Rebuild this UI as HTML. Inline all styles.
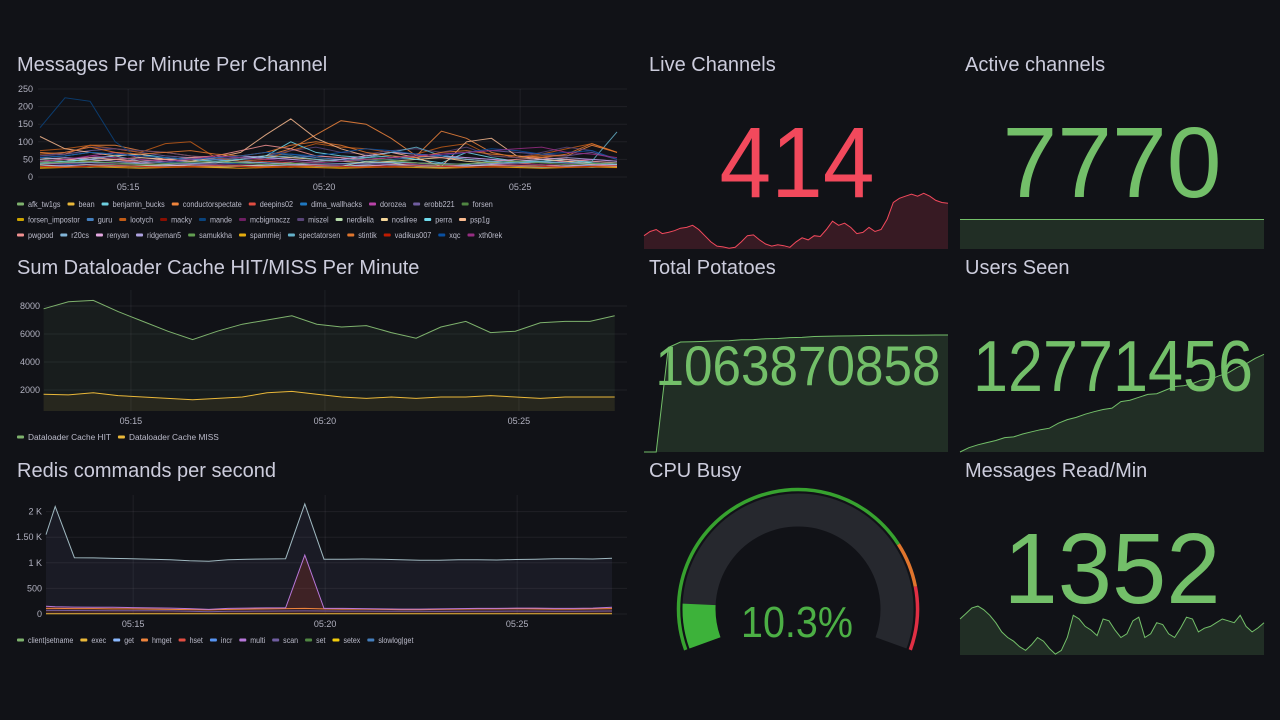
<!DOCTYPE html>
<html><head><meta charset="utf-8"><style>
html,body{margin:0;padding:0;background:#111217;width:1280px;height:720px;overflow:hidden;}
svg{display:block;font-family:"Liberation Sans",sans-serif;}
.title{fill:#ccccdc;font-size:20px;}
.tick{fill:#ccccdc;font-size:9px;opacity:0.85}
.leg{fill:#ccccdc;font-size:8.6px;opacity:0.9}
.grid{stroke:rgba(204,204,220,0.08);stroke-width:1}
</style></head><body>
<svg id="dash" width="1280" height="720" viewBox="0 0 1280 720" xmlns="http://www.w3.org/2000/svg">
<text class="title" x="17" y="71">Messages Per Minute Per Channel</text>
<text class="title" x="17" y="274">Sum Dataloader Cache HIT/MISS Per Minute</text>
<text class="title" x="17" y="477">Redis commands per second</text>
<text class="title" x="649" y="71">Live Channels</text>
<text class="title" x="965" y="71">Active channels</text>
<text class="title" x="649" y="274">Total Potatoes</text>
<text class="title" x="965" y="274">Users Seen</text>
<text class="title" x="649" y="477">CPU Busy</text>
<text class="title" x="965" y="477">Messages Read/Min</text>
<g id="layer"></g>
</svg>
<script>
// ---------- data ----------
const msgTimes=[12.75,13.39,14.03,14.67,15.31,15.95,16.59,17.23,17.87,18.51,19.15,19.79,20.43,21.07,21.71,22.35,22.99,23.63,24.27,24.91,25.55,26.19,26.83,27.47];
const msgNames=["afk_tw1gs","bean","benjamin_bucks","conductorspectate","deepins02","dima_wallhacks","dorozea","erobb221","forsen","forsen_impostor","guru","lootych","macky","mande","mcbigmaczz","miszel","nerdiella","nosliree","perra","psp1g","pwgood","r20cs","renyan","ridgeman5","samukkha","spammiej","spectatorsen","stintik","vadikus007","xqc","xth0rek"];
const msgLegendRows=[9,11,11];
const palette=["#7EB26D","#EAB839","#6ED0E0","#EF843C","#E24D42","#1F78C1","#BA43A9","#705DA0","#508642","#CCA300","#447EBC","#C15C17","#890F02","#0A437C","#6D1F62","#584477","#B7DBAB","#F4D598","#70DBED","#F9BA8F","#F29191","#82B5D8","#E5A8E2","#AEA2E0","#629E51","#E5AC0E","#64B0C8","#E0752D","#BF1B00","#0A50A1","#962D82"];
const msgValues=[
[45,40,35,30,28,30,32,30,35,30,28,30,30,35,45,40,30,28,30,32,35,30,28,30],
[30,28,30,32,30,28,30,30,32,30,28,30,30,28,30,30,28,30,32,30,30,28,30,28],
[35,40,55,60,45,50,55,50,45,40,35,30,30,35,40,35,30,35,45,40,35,30,35,30],
[70,65,90,90,75,70,60,50,55,60,80,120,160,150,110,60,130,110,70,55,60,60,90,70],
[35,40,45,50,40,35,30,35,40,45,40,35,30,30,35,40,35,30,35,40,35,30,35,30],
[30,35,40,35,30,28,30,35,40,35,30,30,35,40,35,30,28,30,35,30,28,30,32,35],
[40,45,60,70,55,50,40,45,50,55,50,45,50,60,70,65,60,55,50,45,40,45,50,45],
[60,65,75,80,70,60,55,50,45,50,55,60,55,50,55,60,65,70,75,70,65,60,70,50],
[50,45,40,35,35,30,30,28,30,30,32,30,30,28,30,28,30,30,28,30,30,28,30,28],
[28,30,28,30,30,28,30,28,30,30,28,30,28,30,28,30,28,30,30,28,30,28,30,28],
[45,50,55,50,45,40,45,50,55,60,65,55,50,45,50,55,60,50,45,40,45,50,45,40],
[75,80,90,80,70,95,100,55,45,50,75,95,85,80,70,65,85,95,60,55,65,80,95,70],
[25,28,30,28,25,27,28,26,25,27,28,26,25,27,28,26,25,27,28,26,25,27,28,26],
[140,225,215,100,50,45,40,42,38,35,38,30,30,28,30,28,30,32,30,30,28,30,28,30],
[35,38,40,38,35,37,38,36,35,37,38,36,35,37,38,36,35,37,38,36,35,37,38,36],
[60,70,85,80,75,70,60,55,50,60,75,85,70,65,75,80,70,85,60,55,70,85,75,50],
[35,30,28,30,32,35,30,28,30,35,40,30,30,45,40,30,28,30,35,30,28,30,28,30],
[55,50,45,50,55,50,45,40,50,60,55,50,45,40,45,50,55,45,40,45,50,45,40,35],
[40,45,50,60,65,55,50,45,50,60,100,70,60,55,60,50,40,70,55,45,45,50,40,35],
[115,80,70,60,65,50,45,55,70,120,165,110,80,60,70,55,30,100,110,60,50,45,35,30],
[45,50,55,50,45,50,55,60,75,90,80,60,55,50,55,60,55,50,45,50,55,50,45,40],
[38,40,42,40,38,36,38,40,42,40,38,36,38,40,42,40,38,36,38,40,42,40,38,36],
[30,32,35,33,30,32,35,33,30,32,35,33,30,32,35,33,30,32,35,33,30,32,35,33],
[50,55,50,45,40,45,50,55,60,55,50,45,50,60,70,65,60,55,50,45,50,55,50,45],
[40,42,45,40,35,38,42,45,40,35,38,42,45,50,48,40,35,38,42,45,40,35,38,40],
[25,27,29,27,25,27,29,27,25,27,29,27,25,27,29,27,25,27,29,27,25,27,29,27],
[55,60,70,65,60,55,50,45,50,55,60,50,45,55,70,85,60,50,45,40,45,40,45,128],
[65,70,85,70,65,70,75,65,60,70,90,100,90,70,60,55,70,75,65,60,55,65,95,70],
[30,28,30,32,30,28,30,32,30,28,30,32,30,28,30,32,30,28,30,32,30,28,30,32],
[55,60,70,65,60,55,50,55,60,70,65,60,70,80,75,65,60,70,80,75,65,70,75,50],
[45,50,60,55,50,45,50,60,55,50,45,40,45,50,55,60,65,70,75,80,85,70,65,55]];
const msgYTicks=[0,50,100,150,200,250];
const timeTicks=[15,20,25];
const timeTickLabels=["05:15","05:20","05:25"];

const dlTimes=msgTimes;
const dlHit=[7800,8300,8400,7600,6900,6200,5600,6200,6700,7000,7300,6700,6500,6600,6100,5700,6500,6900,6100,6200,6800,6900,6900,7300];
const dlMiss=[1700,1650,1800,1600,1500,1400,1300,1400,1500,1800,1900,1700,1500,1400,1500,1400,1500,1500,1600,1500,1400,1500,1500,1500];
const dlYTicks=[2000,4000,6000,8000];

const redisTimes=[12.73,12.97,13.47,13.97,14.47,14.97,15.47,15.97,16.47,16.97,17.47,17.97,18.47,18.97,19.47,19.97,20.47,20.97,21.47,21.97,22.47,22.97,23.47,23.97,24.47,24.97,25.47,25.97,26.47,26.97,27.47];
const redisNames=["client|setname","exec","get","hmget","hset","incr","multi","scan","set","setex","slowlog|get"];
const redisColors=["#7EB26D","#EAB839","#8AB8FF","#EF843C","#E24D42","#5794F2","#B877D9","#705DA0","#508642","#F2CC0C","#447EBC"];
const redisGet=[1550,2100,1100,1095,1085,1080,1070,1060,1040,1030,1060,1070,1075,1080,2150,1070,1070,1075,1070,1060,1050,1050,1060,1060,1055,1065,1070,1080,1080,1075,1090];
const redisMulti=[150,140,135,130,130,125,120,115,105,90,110,115,120,120,1150,110,110,105,100,95,95,100,105,110,110,115,115,110,110,115,130];
const redisHmget=[110,110,105,105,100,100,95,90,85,80,90,95,100,105,110,100,95,95,90,85,85,90,95,100,100,105,100,95,95,100,105];
const redisScan=[70,70,68,66,65,64,62,60,55,45,52,55,56,58,60,58,57,56,55,54,52,50,52,54,55,56,56,55,55,56,58];
const redisExec=[5,5,5,5,5,5,5,5,5,5,5,5,5,5,5,5,5,5,5,5,5,5,5,5,5,5,5,5,5,5,5];
const redisYTicks=[0,500,1000,1500,2000];
const redisYLabels=["0","500","1 K","1.50 K","2 K"];

const liveChannels=[360,370,375,365,368,372,378,380,385,375,360,345,335,333,330,332,345,360,362,350,340,335,338,336,332,345,355,350,360,358,375,395,385,390,380,365,368,380,370,375,400,440,450,455,460,455,462,455,445,440,438];
const activeChannels=[7770,7770,7770,7770,7770,7770,7770,7770,7770,7770];
const potatoes=[0,0,950e6,1000e6,1003e6,1006e6,1010e6,1012e6,1020e6,1022e6,1030e6,1032e6,1040e6,1042e6,1050e6,1052e6,1055e6,1056e6,1058e6,1060e6,1061e6,1062e6,1062.5e6,1063e6,1063.5e6,1063.87e6];
const usersSeen=[12.500,12.512,12.520,12.526,12.532,12.540,12.542,12.550,12.556,12.562,12.566,12.580,12.590,12.596,12.605,12.612,12.618,12.622,12.640,12.644,12.652,12.660,12.662,12.672,12.682,12.684,12.690,12.700,12.702,12.712,12.720,12.735,12.745,12.760,12.7715];
const msgRead=[1400,1430,1460,1470,1450,1420,1380,1330,1300,1280,1250,1230,1260,1300,1280,1240,1210,1230,1300,1420,1400,1360,1340,1310,1400,1390,1340,1300,1320,1390,1410,1300,1320,1380,1370,1320,1300,1350,1410,1400,1330,1350,1360,1380,1400,1390,1380,1420,1360,1330,1352,1380];
const cpuBusy=10.3;
const cpuThresholds=[76,86];

// ---------- helpers ----------
const NS="http://www.w3.org/2000/svg";
const layer=document.getElementById('layer');
function mk(tag,attrs,parent){const e=document.createElementNS(NS,tag);for(const k in attrs)e.setAttribute(k,attrs[k]);(parent||layer).appendChild(e);return e;}
function path(pts){return pts.map((p,i)=>(i?'L':'M')+p[0].toFixed(1)+','+p[1].toFixed(1)).join('');}

function axes(g,xs,ys,x0,x1,yTop,yBot,yTicks,yLabels,labX,xLabY){
  yTicks.forEach((v,i)=>{const y=ys(v);
    const l=mk('line',{x1:x0,x2:x1,y1:y,y2:y,class:'grid'},g);
    
    
    const t=mk('text',{x:labX,y:y+3,'text-anchor':'end',class:'tick'},g);t.textContent=yLabels[i];
    
    });
  timeTicks.forEach((v,i)=>{const x=xs(v);
    const l=mk('line',{x1:x,x2:x,y1:yTop,y2:yBot,class:'grid'},g);
    
    
    const t=mk('text',{x:x,y:xLabY,'text-anchor':'middle',class:'tick'},g);t.textContent=timeTickLabels[i];
    
    });
}
function legend(g,names,colors,x0,y,rows,rowH,squeeze){
  let x=x0,r=0,inRow=0;
  names.forEach((n,i)=>{
    if(rows && inRow>=rows[r]){r++;inRow=0;x=x0;y+=rowH;}
    inRow++;
    const tmp=mk('text',{x:0,y:-100,class:'leg'},g);tmp.textContent=n;const w=tmp.getComputedTextLength()*squeeze;tmp.remove();
    const it=mk('g',{},g);
    
    
    mk('rect',{x:x,y:y-1.5,width:7,height:3,rx:1,fill:colors[i]},it);
    const t=mk('text',{x:x+11,y:y+3,class:'leg',textLength:w.toFixed(1),lengthAdjust:'spacingAndGlyphs'},it);t.textContent=n;
    x+=11+w+7;
  });
}

// ---------- messages chart ----------
(function(){
  const g=mk('g',{});
  
  
  const xs=t=>38+(t-12.7)*39.2, ys=v=>177-v*0.352;
  axes(g,xs,ys,38,627,89,177,msgYTicks,msgYTicks.map(String),33,190);
  msgValues.forEach((s,i)=>{
    const p=mk('path',{d:path(s.map((v,j)=>[xs(msgTimes[j]),ys(v)])),fill:'none',stroke:palette[i],'stroke-width':1,'stroke-opacity':0.85},g);
    
    
  });
  legend(g,msgNames,palette,17,204,msgLegendRows,15.5,0.84);
})();

// ---------- dataloader chart ----------
(function(){
  const g=mk('g',{});
  
  
  const xs=t=>44+(t-12.76)*38.8, ys=v=>418-v*0.014;
  axes(g,xs,ys,44,627,290,411,dlYTicks,dlYTicks.map(String),40,424);
  [[dlHit,'#7EB26D','hit'],[dlMiss,'#EAB839','miss']].forEach(([s,c,n])=>{
    const pts=s.map((v,j)=>[xs(dlTimes[j]),ys(v)]);
    const a=mk('path',{d:path(pts)+'L'+pts[pts.length-1][0]+',411L'+pts[0][0]+',411Z',fill:c,'fill-opacity':0.07},g);
    
    
    const l=mk('path',{d:path(pts),fill:'none',stroke:c,'stroke-width':1},g);
    
    
  });
  legend(g,["Dataloader Cache HIT","Dataloader Cache MISS"],["#7EB26D","#EAB839"],17,437,null,15,0.97);
})();

// ---------- redis chart ----------
(function(){
  const g=mk('g',{});
  
  
  const xs=t=>46+(t-12.73)*38.4, ys=v=>614-v*0.0512;
  axes(g,xs,ys,46,627,495,614,redisYTicks,redisYLabels,42,627);
  const top=redisGet.map((v,j)=>[xs(redisTimes[j]),ys(v)]);
  const a=mk('path',{d:path(top)+'L'+top[top.length-1][0]+',614L'+top[0][0]+',614Z',fill:'#8f86c8','fill-opacity':0.08},g);
  
  
  const mp=redisMulti.map((v,j)=>[xs(redisTimes[j]),ys(v)]);
  const ma=mk('path',{d:path(mp)+'L'+mp[mp.length-1][0]+',614L'+mp[0][0]+',614Z',fill:'#c0392b','fill-opacity':0.22},g);
  
  
  [[redisExec,'#EAB839','exec'],[redisScan,'#705DA0','scan'],[redisHmget,'#EF843C','hmget'],[redisMulti,'#B877D9','multi'],[redisGet,'#9fb8c0','get']].forEach(([s,c,n])=>{
    const l=mk('path',{d:path(s.map((v,j)=>[xs(redisTimes[j]),ys(v)])),fill:'none',stroke:c,'stroke-width':1},g);
    
    
  });
  legend(g,redisNames,redisColors,17,640,null,15,0.82);
})();

// ---------- stat sparklines ----------
function spark(name,vals,min,max,x0,x1,yTop,yBot,color){
  const g=mk('g',{});
  
  
  const xs=i=>x0+i*(x1-x0)/(vals.length-1), ys=v=>yBot-(v-min)/(max-min)*(yBot-yTop);
  const pts=vals.map((v,i)=>[xs(i),ys(v)]);
  mk('path',{d:path(pts)+'L'+x1+','+yBot+'L'+x0+','+yBot+'Z',fill:color,'fill-opacity':0.17},g);
  mk('path',{d:path(pts),fill:'none',stroke:color,'stroke-width':1},g);
}
function bigText(name,txt,cx,base,size,len,color){
  const t=mk('text',{x:cx,y:base,'text-anchor':'middle','font-size':size,fill:color,textLength:len,lengthAdjust:'spacingAndGlyphs'});
  t.textContent=txt;
  
  
}
spark('live-channels-sparkline',liveChannels,328,470,644,948,190,249,'#F2495C');
bigText('live-channels-value','414',797,197,100,155,'#F2495C');
spark('active-channels-sparkline',activeChannels,7740,7800,960,1264,190,249,'#73BF69');
bigText('active-channels-value','7770',1112,197,100,219,'#73BF69');
spark('total-potatoes-sparkline',potatoes,0,1063.87e6,644,948,335,452,'#73BF69');
bigText('total-potatoes-value','1063870858',798,385,56,285,'#73BF69');
spark('users-seen-sparkline',usersSeen,12.5,12.775,960,1264,353,452,'#73BF69');
bigText('users-seen-value','12771456',1113,391,72,280,'#73BF69');
spark('messages-read-sparkline',msgRead,1205,1530,960,1264,595,655,'#73BF69');
bigText('messages-read-value','1352',1112,603,100,217,'#73BF69');

// ---------- gauge ----------
(function(){
  const g=mk('g',{});
  
  
  const cx=798,cy=609,start=200,sweep=220;
  const ang=p=>(start-sweep*p/100)*Math.PI/180;
  function arc(r,p0,p1){const a0=ang(p0),a1=ang(p1);
    const large=(sweep*(p1-p0)/100)>180?1:0;
    return 'M'+(cx+r*Math.cos(a0))+','+(cy-r*Math.sin(a0))+'A'+r+','+r+' 0 '+large+' 1 '+(cx+r*Math.cos(a1))+','+(cy-r*Math.sin(a1));}
  mk('path',{d:arc(99,0,100),fill:'none',stroke:'#26282e','stroke-width':33},g);
  mk('path',{d:arc(99,0,cpuBusy),fill:'none',stroke:'#3DB23A','stroke-width':33},g);
  mk('path',{d:arc(119.5,0,cpuThresholds[0]),fill:'none',stroke:'#37A22F','stroke-width':3.5},g);
  mk('path',{d:arc(119.5,cpuThresholds[0],cpuThresholds[1]),fill:'none',stroke:'#E0752D','stroke-width':3.5},g);
  mk('path',{d:arc(119.5,cpuThresholds[1],100),fill:'none',stroke:'#E02F44','stroke-width':3.5},g);
  bigText('cpu-busy-value',cpuBusy.toFixed(1)+'%',797,637,44,112,'#4CAF45');
})();
</script>
</body></html>
